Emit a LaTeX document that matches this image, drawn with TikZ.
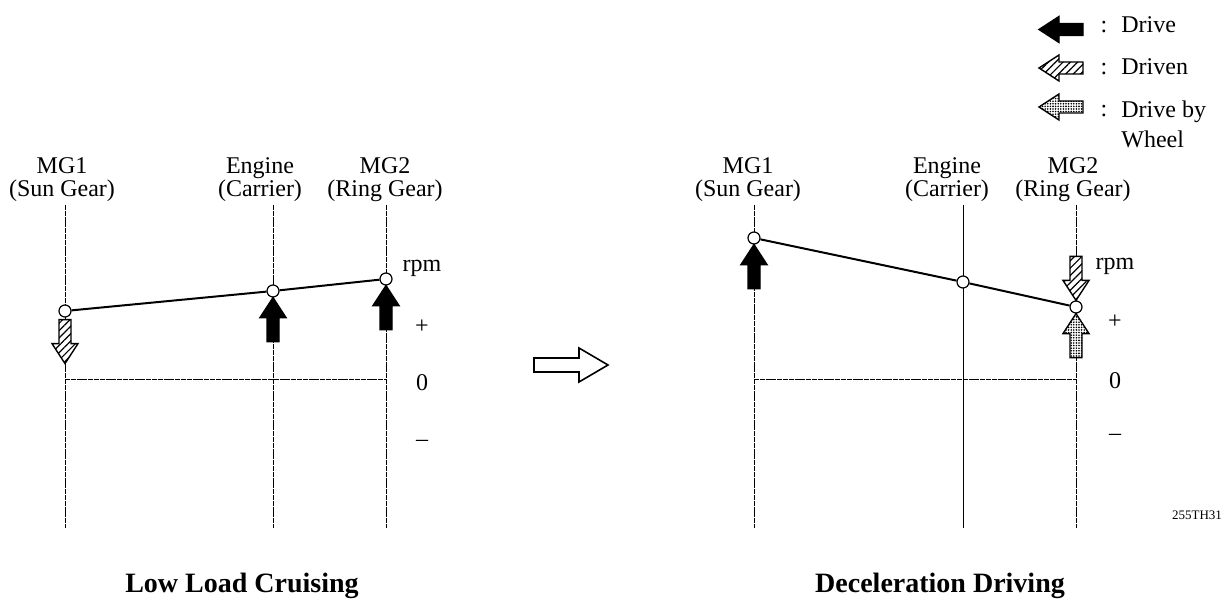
\documentclass[tikz,border=0pt]{standalone}
\usepackage{fontspec}
\setmainfont{Liberation Serif}
\usetikzlibrary{patterns.meta}

\begin{document}
\begin{tikzpicture}[x=0.5pt,
            y=-0.5pt,
            font=\fontsize{12}{11.5}\selectfont,
            joint/.style={circle,draw,fill=white,inner sep=0pt,minimum size=6pt,line width=0.6pt},
            axis/.style={line width=0.5pt,dash pattern=on 2.5pt off 0.4pt},
            lever/.style={line width=1pt},
            drive/.style={draw,fill=black,line width=0.7pt},
            driven/.style={draw,line width=0.7pt,preaction={fill=white},
                           pattern={Lines[angle=45,distance=2.6pt,line width=0.6pt]}},
            wheel/.style={draw,line width=0.7pt,preaction={fill=white},
                          pattern={Dots[distance=1.3pt,radius=0.45pt]}},
            gear/.style={align=center,inner sep=0pt,anchor=north},
            sign/.style={inner sep=0pt},
            title/.style={font=\fontsize{14}{16}\selectfont\bfseries,anchor=base},
            gear arrow/.pic={
                \path[#1] (0,0) -- (13,20) -- (6,20) -- (6,44) -- (-6,44)
                          -- (-6,20) -- (-13,20) -- cycle;
            }]

        \useasboundingbox (0,0) rectangle (1232,603);

        % lever axes
        \foreach \n/\x in {s1/65,e1/273,r1/386,s2/754,r2/1076}{
            \coordinate (\n top) at (\x,205);
            \coordinate (\n bot) at (\x,528);
            \draw[axis] (\n top) -- (\n bot);
        }
        \coordinate (e2top) at (963,205);
        \coordinate (e2bot) at (963,528);
        \draw[axis,solid] (e2top) -- (e2bot);
        \draw[axis] (s1top |- 0,380) -- (r1top |- 0,380);
        \draw[axis] (s2top |- 0,380) -- (r2top |- 0,380);

        \node[gear] (s1lab) at (62,157)   {MG1\\(Sun Gear)};
        \node[gear] (e1lab) at (260,157)  {Engine\\(Carrier)};
        \node[gear] (r1lab) at (385,157)  {MG2\\(Ring Gear)};
        \node[gear] (s2lab) at (748,157)  {MG1\\(Sun Gear)};
        \node[gear] (e2lab) at (947,157)  {Engine\\(Carrier)};
        \node[gear] (r2lab) at (1073,157) {MG2\\(Ring Gear)};

        \node[sign,anchor=base] (rpm1)  at (422,272)  {rpm};
        \node[sign]             (plus1) at (422,327)  {+};
        \node[sign]             (zero1) at (422,383)  {0};
        \node[sign]             (neg1)  at (422,443)  {--};
        \node[sign,anchor=base] (rpm2)  at (1115,270) {rpm};
        \node[sign]             (plus2) at (1115,322) {+};
        \node[sign]             (zero2) at (1115,381) {0};
        \node[sign]             (neg2)  at (1115,437) {--};

        % low load cruising
        \node[joint] (s1) at (65,311)  {};
        \node[joint] (e1) at (273,291) {};
        \node[joint] (r1) at (386,279) {};
        \draw[lever] (s1) -- (e1) -- (r1);
        \pic               at (e1.south)                 {gear arrow=drive};
        \pic               at (r1.south)                 {gear arrow=drive};
        \pic[rotate=180]   at ([yshift=-23pt]s1.south)   {gear arrow=driven};

        % deceleration driving
        \node[joint] (s2) at (754,238)  {};
        \node[joint] (e2) at (963,282)  {};
        \node[joint] (r2) at (1076,307) {};
        \draw[lever] (s2) -- (e2) -- (r2);
        \pic               at (s2.south)                 {gear arrow=drive};
        \pic[rotate=180]   at (r2.north)                 {gear arrow=driven};
        \pic               at (r2.south)                 {gear arrow=wheel};

        \draw[line width=0.8pt,fill=white] (534,358) -- (579,358) -- (579,348) -- (608,365)
            -- (579,382) -- (579,372) -- (534,372) -- cycle;

        \node[title] (t1) at (242,593) {Low Load Cruising};
        \node[title] (t2) at (940,593) {Deceleration Driving};
        \node[font=\fontsize{6.5}{8}\selectfont] (code) at (1197,515) {255TH31};

        % legend
        \pic[rotate=90] at (1039,29.5) {gear arrow=drive};
        \pic[rotate=90] at (1039,68)   {gear arrow=driven};
        \pic[rotate=90] at (1039,107)  {gear arrow=wheel};
        \node[anchor=base] (c1) at (1104,33)  {:};
        \node[anchor=base] (c2) at (1104,75)  {:};
        \node[anchor=base] (c3) at (1104,117) {:};
        \node[anchor=base west,inner sep=0pt] (l1) at (1121,33) {Drive};
        \node[anchor=base west,inner sep=0pt] (l2) at (1121,75) {Driven};
        \node[anchor=north west,inner sep=0pt,align=left,
              font=\fontsize{12}{15}\selectfont] (l3) at (1121,100) {Drive by\\Wheel};

    \end{tikzpicture}
\end{document}
